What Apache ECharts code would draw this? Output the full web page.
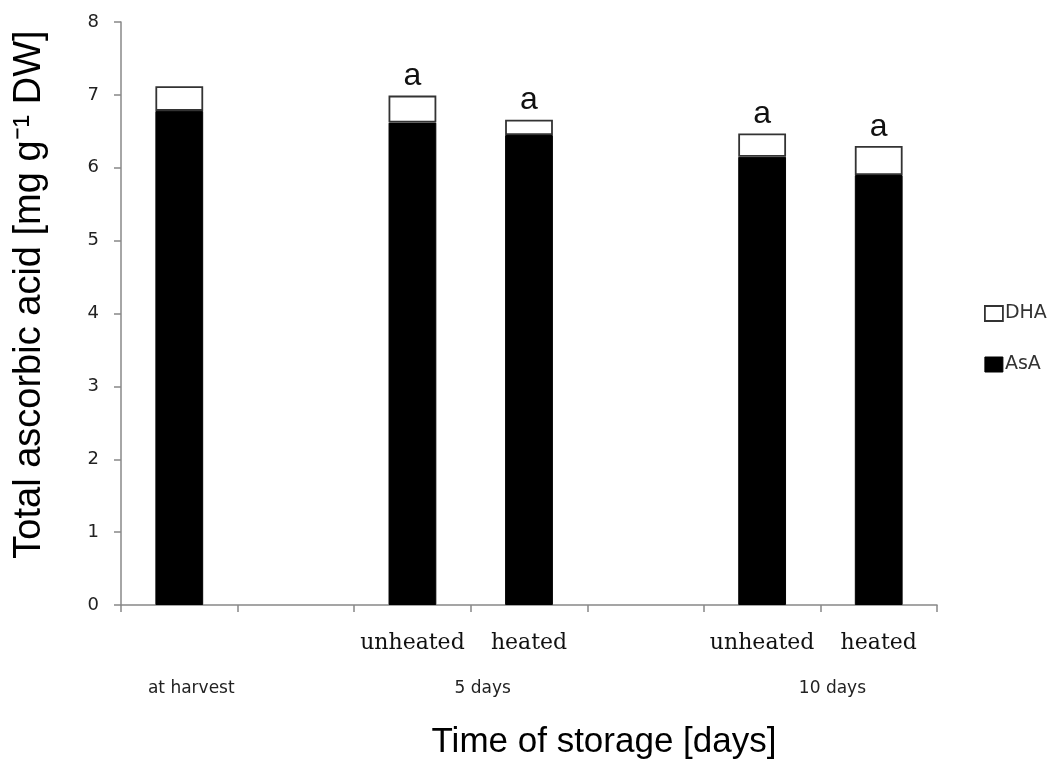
<!DOCTYPE html>
<html>
<head>
<meta charset="utf-8">
<script src="https://cdn.jsdelivr.net/npm/echarts@6/dist/echarts.min.js"></script>
<style>html,body{margin:0;padding:0;background:#fff}#c{width:1053px;height:765px}</style>
</head>
<body>
<div id="c"></div>
<script>
// Categories (7 slots; empty slots are gaps between storage groups)
var categories = ['', '', 'unheated', 'heated', '', 'unheated', 'heated'];
// Group labels and the category index span of each group
var groupNames = ['at harvest', '5 days', '10 days'];
var groupStart = [0, 2, 5];
var groupEnd = [0, 3, 6];
// Series values (mg g-1 DW)
var asaValues = [6.78, null, 6.62, 6.45, null, 6.15, 5.90];
var dhaValues = [0.34, null, 0.37, 0.21, null, 0.32, 0.40];
// Significance letters
var letters = ['', '', 'a', 'a', '', 'a', 'a'];
// Y tick labels
var yTicks = [0, 1, 2, 3, 4, 5, 6, 7, 8];

var groupCenters = groupStart.map(function (s, i) { return (s + groupEnd[i] + 1) / 2; });

var chart = echarts.init(document.getElementById('c'), null, {renderer: 'canvas'});
chart.setOption({
  animation: false,
  backgroundColor: '#fff',
  grid: {left: 121, right: 116, top: 22, bottom: 159},
  legend: {
    orient: 'vertical',
    left: 979,
    top: 299,
    itemGap: 32,
    itemWidth: 18,
    itemHeight: 15,
    icon: 'rect',
    textStyle: {fontFamily: 'DejaVu Sans', fontSize: 19, color: '#333', padding: [0, 0, 0, -3]},
    data: [
      {name: 'DHA', itemStyle: {color: '#fff', borderColor: '#333', borderWidth: 1.8}},
      {name: 'AsA', itemStyle: {color: '#000', borderColor: '#000', borderWidth: 1}}
    ]
  },
  xAxis: [{
    type: 'category',
    data: categories,
    gridIndex: 0,
    axisLine: {lineStyle: {color: '#888', width: 1.5}},
    axisTick: {show: true, inside: false, length: 7, lineStyle: {color: '#888', width: 1.5}},
    axisLabel: {interval: 0, margin: 27, fontFamily: 'DejaVu Serif', fontSize: 22, color: '#111'},
    name: 'Time of storage [days]',
    nameLocation: 'middle',
    nameGap: 120,
    nameTextStyle: {fontFamily: 'Liberation Sans', fontSize: 35, color: '#000', padding: [0, 0, 0, 150]}
  }, {
    type: 'value',
    min: 0,
    max: categories.length,
    position: 'bottom',
    axisLine: {show: false},
    axisTick: {show: false},
    splitLine: {show: false},
    axisLabel: {
      customValues: groupCenters,
      margin: 75,
      fontFamily: 'DejaVu Sans',
      fontSize: 17,
      color: '#222',
      padding: [0, 0, 0, 24],
      formatter: function (v) {
        for (var i = 0; i < groupCenters.length; i++) {
          if (Math.abs(groupCenters[i] - v) < 1e-6) return groupNames[i];
        }
        return '';
      }
    }
  }],
  yAxis: {
    type: 'value',
    min: yTicks[0],
    max: yTicks[yTicks.length - 1],
    interval: 1,
    axisLine: {show: true, lineStyle: {color: '#888', width: 1.5}},
    axisTick: {show: true, inside: false, length: 7, lineStyle: {color: '#888', width: 1.5}},
    splitLine: {show: false},
    axisLabel: {margin: 22, fontFamily: 'DejaVu Sans', fontSize: 18, color: '#222'},
    name: 'Total ascorbic acid [mg g\u207B\u00B9 DW]',
    nameLocation: 'middle',
    nameGap: 72,
    nameRotate: 90,
    nameTextStyle: {fontFamily: 'Liberation Sans', fontSize: 38, color: '#000', padding: [0, 0, 0, 38]}
  },
  series: [{
    name: 'AsA',
    type: 'bar',
    stack: 'total',
    xAxisIndex: 0,
    barWidth: '41%',
    data: asaValues,
    itemStyle: {color: '#000', borderColor: '#000', borderWidth: 1}
  }, {
    name: 'DHA',
    type: 'bar',
    stack: 'total',
    xAxisIndex: 0,
    barWidth: '41%',
    data: dhaValues,
    itemStyle: {color: '#fff', borderColor: '#333', borderWidth: 1.8},
    label: {
      show: true,
      position: 'top',
      distance: 3,
      fontFamily: 'Liberation Sans',
      fontSize: 32,
      color: '#111',
      formatter: function (p) { return letters[p.dataIndex] || ''; }
    }
  }]
});
</script>
</body>
</html>
